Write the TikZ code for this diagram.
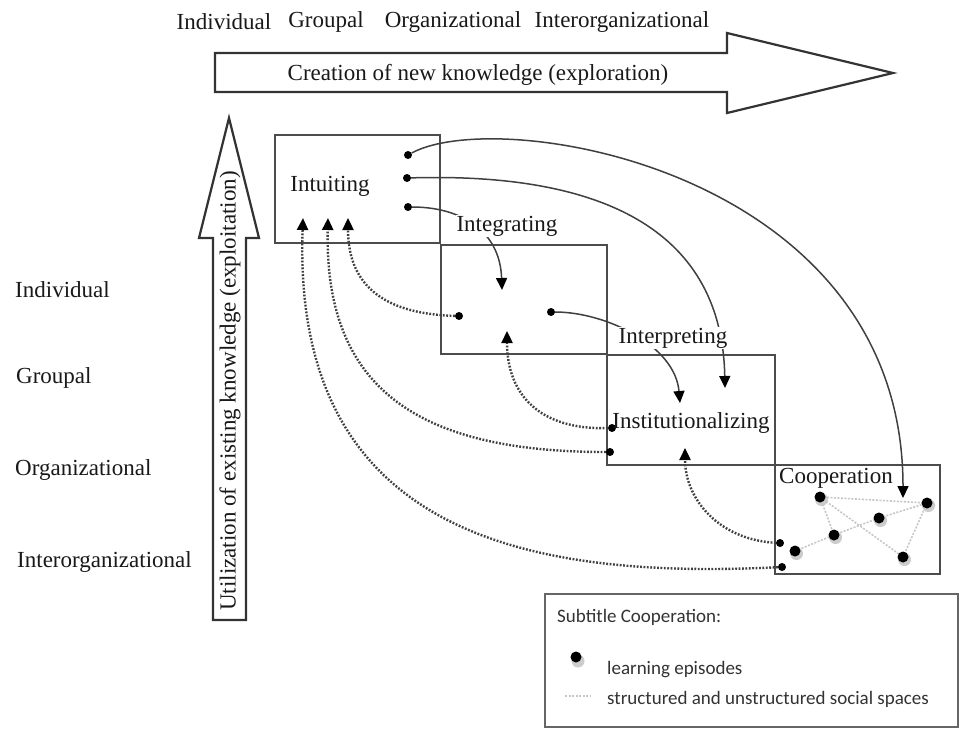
\documentclass[tikz,border=0pt]{standalone}
\usepackage{fontspec}
\setmainfont{Liberation Serif}
\newfontfamily\legendfont{Carlito}
\usetikzlibrary{arrows.meta}

\begin{document}
\begin{tikzpicture}[x=1pt,y=-1pt,
  lbl/.style={font=\fontsize{23}{26}\selectfont, inner sep=1pt, text=black!90},
  lblw/.style={lbl, fill=white},
  stage/.style={draw=black!70, line width=1.8pt},
  bigarrow/.style={draw=black!80, line width=2.2pt, line join=miter, fill=white},
  ep/.style={circle, fill=black, inner sep=0pt, minimum size=8pt},
  bigep/.style={circle, fill=black, inner sep=0pt, minimum size=11pt},
  tip/.style={-{Triangle[length=12pt,width=11pt,color=black]}},
  flow/.style={draw=black!75, line width=1.5pt, tip},
  feedback/.style={draw=black!75, line width=2.4pt, dash pattern=on 1.8pt off 1.6pt, tip},
  social/.style={draw=black!22, line width=1.6pt, dash pattern=on 2pt off 1.5pt},
  legendtext/.style={font=\legendfont\fontsize{19}{22}\selectfont, text=black!80, anchor=west, inner sep=0pt},
]
% canvas
\fill[white] (0,0) rectangle (960,729);
\useasboundingbox (0,0) rectangle (960,729);

% level labels along the top
\node[lbl] (topInd) at (224,22) {Individual};
\node[lbl] (topGrp) at (326,22) {Groupal};
\node[lbl] (topOrg) at (453,22) {Organizational};
\node[lbl] (topInt) at (622,22) {Interorganizational};

% level labels along the left side
\node[lbl, anchor=west] (leftInd) at (14,290) {Individual};
\node[lbl, anchor=west] (leftGrp) at (15,378) {Groupal};
\node[lbl, anchor=west] (leftOrg) at (14,470) {Organizational};
\node[lbl, anchor=west] (leftInt) at (16,562) {Interorganizational};

% exploration arrow (horizontal)
\draw[bigarrow] (215,53) -- (727,53) -- (727,33) -- (893,73) -- (727,113) -- (727,92) -- (215,92) -- cycle;
\node[lbl] (explore) at (478,75) {Creation of new knowledge (exploration)};

% exploitation arrow (vertical)
\draw[bigarrow] (213,620) -- (213,238) -- (199,238) -- (229,118) -- (259,238) -- (246,238) -- (246,620) -- cycle;
\node[lbl, rotate=90] (exploit) at (230,391) {Utilization of existing knowledge (exploitation)};

% the four stage boxes
\draw[stage] (275,135) rectangle (440,243);
\draw[stage] (441,245) rectangle (607,354);
\draw[stage] (607,355) rectangle (775,465);
\draw[stage] (775,465) rectangle (940,574);

% learning episodes
\node[ep] (u1) at (408,155) {};
\node[ep] (u2) at (407,178) {};
\node[ep] (u3) at (408,207) {};
\node[ep] (g1) at (459,316) {};
\node[ep] (g2) at (551,312) {};
\node[ep] (s1) at (612,428) {};
\node[ep] (s2) at (610,452) {};
\node[ep] (k1) at (780,543) {};
\node[ep] (k2) at (782,567) {};

% arrow tip positions
\coordinate (tU1) at (303,218);
\coordinate (tU2) at (328,218);
\coordinate (tU3) at (348,218);
\coordinate (tGdown) at (502,290);
\coordinate (tGup) at (507,331);
\coordinate (tSdownA) at (680,403);
\coordinate (tSdownB) at (725,388);
\coordinate (tSup) at (685,448);
\coordinate (tCdown) at (903,498);

% feed-forward flows
\draw[flow] (u1) .. controls (500,105) and (903,170) .. (tCdown);
\draw[flow] (u2) .. controls (610,172) and (722,235) .. (tSdownB);
\draw[flow] (u3) .. controls (460,207) and (500,230) .. (tGdown);
\draw[flow] (g2) .. controls (605,312) and (675,345) .. (tSdownA);

% feedback flows
\draw[feedback] (g1) .. controls (390,314) and (348,290) .. (tU3);
\draw[feedback] (s2) .. controls (420,452) and (324,390) .. (tU2);
\draw[feedback] (k2) .. controls (520,580) and (292,530) .. (tU1);
\draw[feedback] (s1) .. controls (540,430) and (507,395) .. (tGup);
\draw[feedback] (k1) .. controls (720,540) and (685,500) .. (tSup);

% stage names
\node[lbl] (intuiting) at (330,186) {Intuiting};
\node[lblw] (integrating) at (507,226) {Integrating};
\node[lblw] (interpreting) at (673,338) {Interpreting};
\node[lbl] (institutionalizing) at (691,423) {Institutionalizing};
\node[lbl] (cooperation) at (836,478) {Cooperation};

% cooperation network: shadows, social spaces, episodes
\foreach \p in {(820,497),(927,503),(879,518),(834,535),(795,551),(903,557)}
  \fill[black!20] \p ++(1.5,2.5) circle (6.5pt);
\coordinate (pa) at (820,497);
\coordinate (pb) at (927,503);
\coordinate (pc) at (879,518);
\coordinate (pd) at (834,535);
\coordinate (pe) at (795,551);
\coordinate (pf) at (903,557);
\draw[social] (pa) -- (pb) -- (pf) -- (pa) -- (pd);
\draw[social] (pe) -- (pd) -- (pc) -- (pb);
\node[bigep] (ca) at (pa) {};
\node[bigep] (cb) at (pb) {};
\node[bigep] (cc) at (pc) {};
\node[bigep] (cd) at (pd) {};
\node[bigep] (ce) at (pe) {};
\node[bigep] (cf) at (pf) {};

% legend
\draw[draw=black!60, line width=1.2pt] (545,594) rectangle (958,727);
\node[legendtext] (legTitle) at (557,617) {Subtitle Cooperation:};
\fill[black!20] (578,661) circle (6.5pt);
\node[bigep] (legDot) at (576,657) {};
\node[legendtext] (legEp) at (607,670) {learning episodes};
\coordinate (legL) at (565,696);
\coordinate (legR) at (590,696);
\draw[social] (legL) -- (legR);
\node[legendtext] (legSp) at (607,699) {structured and unstructured social spaces};
\end{tikzpicture}
\end{document}
